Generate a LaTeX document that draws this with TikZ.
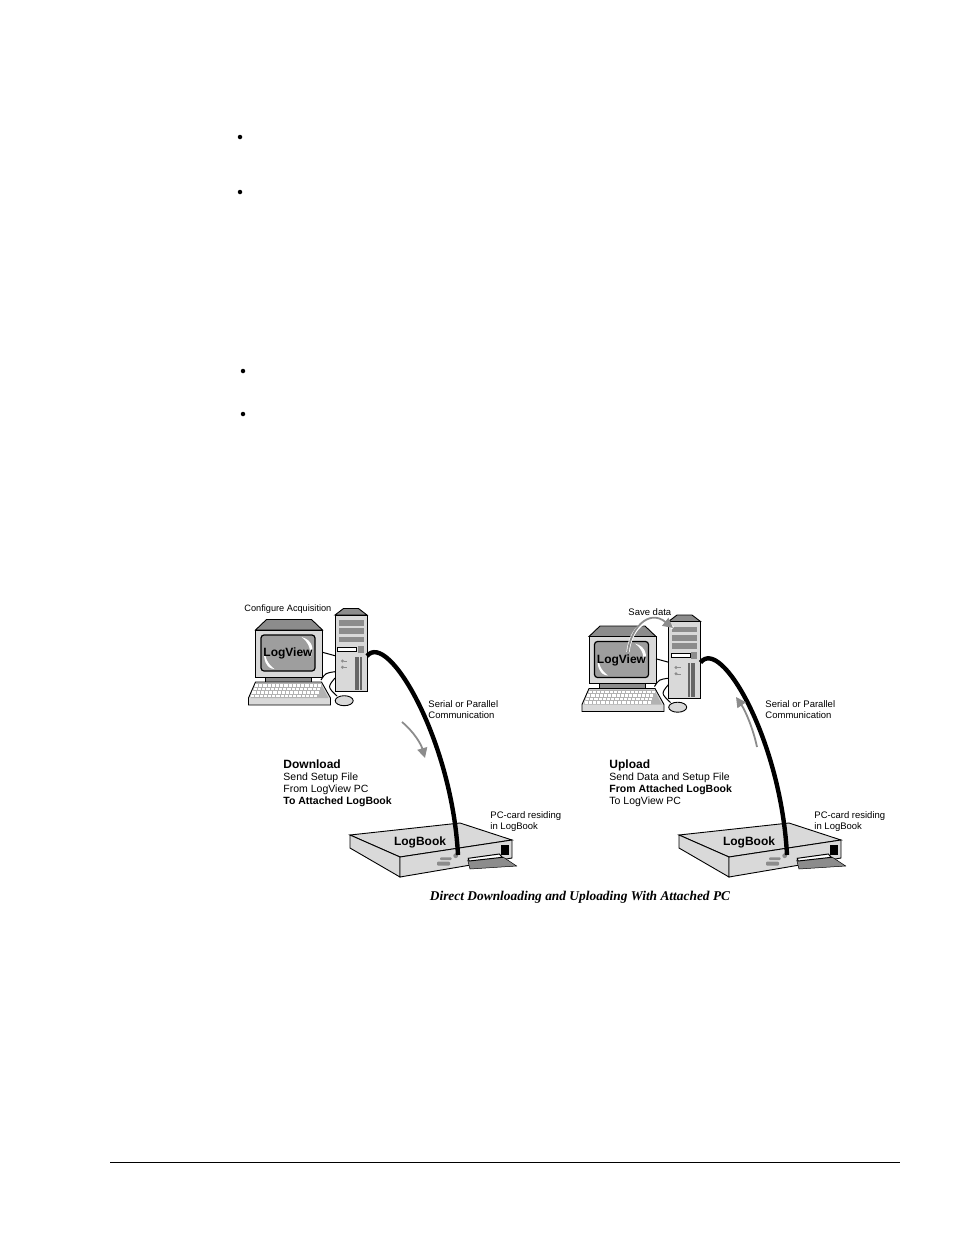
\documentclass[tikz,border=0pt]{standalone}
\usepackage{fontspec}
\setmainfont{Liberation Sans}
\newfontfamily\capfont{Liberation Serif}
\usetikzlibrary{arrows.meta}
\definecolor{boxgray}{gray}{0.85}
\definecolor{midgray}{gray}{0.55}
\definecolor{screengray}{gray}{0.62}
\tikzset{
  label/.style={anchor=north west,inner sep=0pt,align=left,font=\fontsize{9.5}{11.4}\selectfont},
  steps/.style={anchor=north west,inner sep=0pt,align=left,font=\fontsize{10.5}{12}\selectfont},
  boxname/.style={inner sep=0pt,font=\bfseries\fontsize{12}{14}\selectfont},
  cable/.style={line width=4.4pt,black},
  wire/.style={line width=1pt,black},
  flow/.style={line width=1.8pt,black!45,-{Triangle[length=10pt,width=10pt]}},
  dot/.style={circle,fill=black,inner sep=0pt,minimum size=4.5pt},
  computer/.pic={
    % monitor
    \draw[fill=midgray] (-78,15) -- (-67,4.5) -- (-22,4.5) -- (-11,15) -- cycle;
    \draw[fill=boxgray] (-78,15) rectangle (-11,62);
    \draw[fill=midgray] (-68,62) rectangle (-22,67);
    \draw[fill=screengray,rounded corners=3pt,line width=1.2pt] (-72.5,20) rectangle (-18.5,56);
    \fill[white] (-69,34) .. controls (-69,42) and (-66,49) .. (-59,54) .. controls (-67,54) and (-71,44) .. cycle;
    \fill[white] (-32,22) .. controls (-26,26) and (-23,32) .. (-23,42) .. controls (-19,34) and (-21,25) .. cycle;
    \node[boxname] (-title) at (-45.5,38.5) {LogView};
    % keyboard
    \draw[fill=boxgray] (-78,67) -- (-12,67) -- (-3,83) -- (-3,90) -- (-85,90) -- (-85,83) -- cycle;
    \fill[black!30] (-77,68) -- (-13,68) -- (-5,83) -- (-83,83) -- cycle;
    \foreach \row in {0,1,2,3}
      \foreach \col in {0,...,15}
        \fill[white] (-78.5-\row*1.5+\col*4.2+\row*0.2,69+\row*3.5) rectangle ++(3.2,2.5);
    % tower
    \draw[fill=midgray] (1.5,0) -- (10,-6.5) -- (25,-6.5) -- (33.5,0) -- cycle;
    \draw[fill=boxgray] (1.5,0) rectangle (33.5,76.5);
    \foreach \y in {5,13.3,21.7}
      \fill[midgray] (5,\y) rectangle (30,\y+5.7);
    \draw[fill=white,line width=0.4pt] (4,31.7) rectangle (22.7,35.7);
    \fill[midgray] (24,30.7) rectangle (30,37.7);
    \foreach \x in {21,23.7,26.4}
      \fill[black!60] (\x,41.7) rectangle (\x+2,75);
    \foreach \y in {46,52.3} {
      \fill[midgray] (9,\y) circle (1.6pt);
      \draw[midgray,line width=0.5pt] (10,\y) -- (13.5,\y);
    }
    % mouse
    \draw[fill=boxgray] (10.7,85.7) ellipse (9pt and 5pt);
    % local wires
    \coordinate (-back) at (1.5,40.7);
    \coordinate (-monitor) at (-11,37.3);
    \coordinate (-kbd) at (-12.5,65);
    \coordinate (-kbdin) at (1.5,56.7);
    \coordinate (-mousein) at (1.5,63);
    \coordinate (-mouse) at (3.5,81);
    \draw[wire] (-monitor) -- (-back);
    \draw[wire] (-kbd) .. controls (-8,58) .. (-kbdin);
    \draw[wire] (-mousein) .. controls (-6,72) .. (-mouse);
    \coordinate (-out) at (33.5,41);
  },
  logbook/.pic={
    \draw[fill=boxgray] (0,0) -- (110,-12) -- (162,5) -- (50,22) -- cycle;
    \draw[fill=boxgray] (0,0) -- (50,22) -- (50,42) -- (0,13) -- cycle;
    \draw[fill=boxgray] (50,22) -- (162,5) -- (162,23) -- (50,42) -- cycle;
    \fill[black] (151,10) rectangle (158.5,20);
    \draw[fill=midgray,line width=0.5pt] (117.7,25) -- (153,22) -- (166.7,31) -- (120,34) -- cycle;
    \draw[fill=white,line width=1pt] (118.3,23.3) -- (149.3,19) -- (152.3,22.3) -- (119,26) -- cycle;
    \fill[midgray,rounded corners=1pt] (90,22.3) rectangle (101.7,25);
    \fill[midgray,rounded corners=1pt] (87,26.7) rectangle (100,30.7);
    \fill[midgray] (105.7,20.7) circle (2.4pt);
    \node[boxname] (-title) at (70,7) {LogBook};
    \coordinate (-port) at (108,20);
  }
}
\begin{document}
\begin{tikzpicture}[x=1pt,y=-1pt,line width=0.9pt]
\useasboundingbox (0,0) rectangle (954,1235);
% bullets of the page text
\node[dot] (b1) at (240,137) {};
\node[dot] (b2) at (240,192) {};
\node[dot] (b3) at (243,371) {};
\node[dot] (b4) at (243,414) {};
% left side
\pic (pcl) at (333.5,615) {computer};
\pic (lbl) at (350,835) {logbook};
\coordinate (ctl1) at (388,630);
\coordinate (ctl2) at (452,740);
\draw[cable] (pcl-out) .. controls (ctl1) and (ctl2) .. (lbl-port);
\coordinate (dlstart) at (402,722);
\coordinate (dlend) at (425,758);
\draw[flow] (dlstart) .. controls (414,732) and (421,744) .. (dlend);
\node[label,font=\fontsize{9.2}{11.4}\selectfont] (conf) at (244,604) {Configure Acquisition};
\node[label] (serl) at (428,700) {Serial or Parallel\\Communication};
\node[steps] (down) at (283,759.5) {{\fontsize{12}{12}\selectfont\bfseries Download}\\Send Setup File\\From LogView PC\\\textbf{To Attached LogBook}};
\node[label] (resl) at (490,811) {PC-card residing\\in LogBook};
% right side
\pic (pcr) at (667,621.5) {computer};
\pic (lbr) at (679,835) {logbook};
\coordinate (ctr1) at (721,636);
\coordinate (ctr2) at (781,740);
\draw[cable] (pcr-out) .. controls (ctr1) and (ctr2) .. (lbr-port);
\coordinate (ulstart) at (757,747);
\coordinate (ulend) at (736,697);
\draw[flow] (ulstart) .. controls (753,728) and (745,710) .. (ulend);
\coordinate (svstart) at (628,652);
\coordinate (svend) at (673,628);
\draw[flow,preaction={draw=white,line width=3.2pt,-}] (svstart) .. controls (630,630) and (648,608) .. (svend);
\node[label] (save) at (628,608.5) {Save data};
\node[label] (serr) at (765,700) {Serial or Parallel\\Communication};
\node[steps] (upld) at (609,759) {{\fontsize{12}{12}\selectfont\bfseries Upload}\\Send Data and Setup File\\\textbf{From Attached LogBook}\\To LogView PC};
\node[label] (resr) at (814,811) {PC-card residing\\in LogBook};
% caption and foot rule
\node[inner sep=0pt,font=\capfont\bfseries\itshape\fontsize{13.4}{14}\selectfont] (capt) at (580,897.5) {Direct Downloading and Uploading With Attached PC};
\coordinate (rulea) at (110,1162);
\coordinate (ruleb) at (900,1162);
\draw[line width=0.7pt] (rulea) -- (ruleb);
\end{tikzpicture}
\end{document}
